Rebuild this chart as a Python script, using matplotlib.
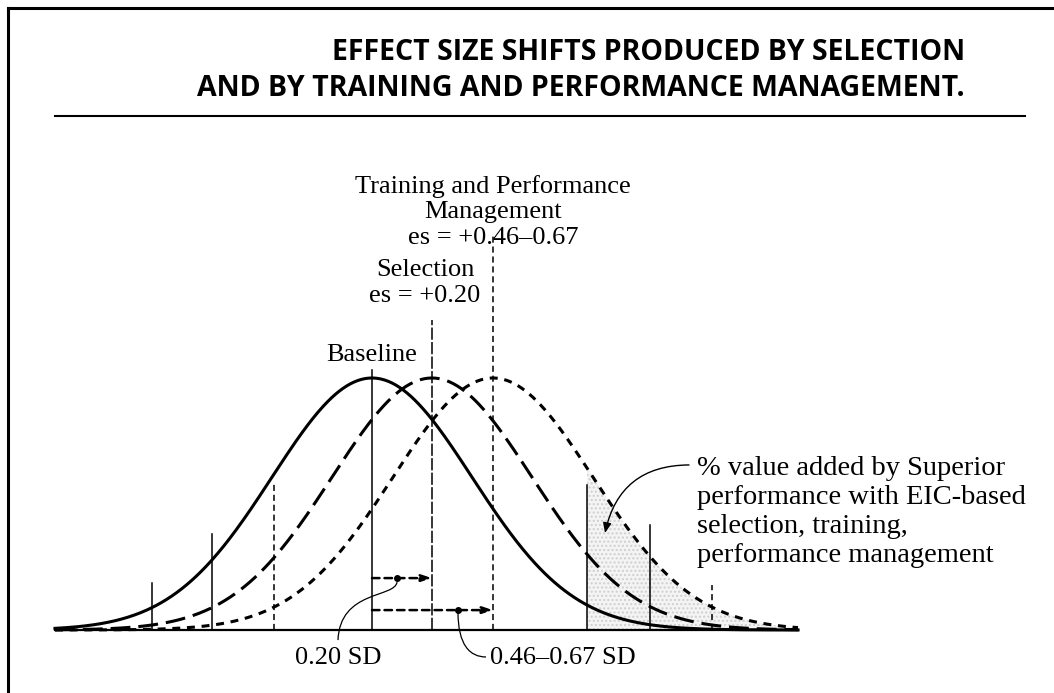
import numpy as np
import matplotlib
matplotlib.use("Agg")
import matplotlib.pyplot as plt
from matplotlib.lines import Line2D
from matplotlib.path import Path
from matplotlib.patches import PathPatch

# shifts of the three distributions (drawing units: 1 = one SD on the sketch)
names = ["Baseline", "Selection", "Training and Performance Management"]
means = [0.0, 0.6, 1.21]
mean_line_tops = [1.03, 1.23, 1.575]
# side marker lines: (x, top height) for baseline / selection / training
left_marks = [(-2.2, 0.187), (-1.6, 0.38), (-0.98, 0.583)]
right_marks = [(2.15, 0.575), (2.78, 0.417), (3.4, 0.18)]
shade_start = 2.15
x_range = (-3.17, 4.26)

title_lines = ["EFFECT SIZE SHIFTS PRODUCED BY SELECTION",
               "AND BY TRAINING AND PERFORMANCE MANAGEMENT."]
train_label = "Training and Performance\nManagement\nes = +0.46\u20130.67"
sel_label = "Selection\nes = +0.20"
shift_labels = ["0.20 SD", "0.46\u20130.67 SD"]
note = ("% value added by Superior\nperformance with EIC-based\n"
        "selection, training,\nperformance management")

W, H = 1054, 693
fig = plt.figure(figsize=(W / 100, H / 100), dpi=100)
ax = fig.add_axes([0, 0, 1, 1])
ax.set_xlim((0 - 372) / 100, (W - 372) / 100)
ax.set_ylim((630 - H) / 252, 630 / 252)
ax.axis("off")

serif = ["Liberation Serif", "DejaVu Serif"]
x = np.linspace(*x_range, 600)


def curve(m):
    return np.exp(-((x - m) ** 2) / 2)


# shaded area under the training curve
mask = x >= shade_start
ax.fill_between(x[mask], 0, curve(means[2])[mask], facecolor="#f4f4f4",
                hatch="....", edgecolor="#cfcfcf", linewidth=0, zorder=1)

styles = [dict(ls="-"), dict(ls=(0, (6.5, 2.6))), dict(ls=(0, (2.6, 2.2)))]
for m, st in zip(means, styles):
    ax.plot(x, curve(m), color="black", lw=2.2, zorder=3, **st)

ax.plot(x_range, [0, 0], color="black", lw=1.6, zorder=4)

vstyles = ["-", (0, (8, 1.5)), (0, (4, 2.5))]
for i in range(3):
    ax.plot([means[i], means[i]], [0, mean_line_tops[i]], color="black",
            lw=1.1, ls=vstyles[i], zorder=2)
    for xm, top in (left_marks[i], right_marks[i]):
        ax.plot([xm, xm], [0, top], color="black", lw=1.1,
                ls=vstyles[i] if i != 1 else "-", zorder=2)

# shift arrows
arrow_rows = [(0.206, means[1], 0.25), (0.079, means[2], 0.86)]
for yy, end, dot in arrow_rows:
    ax.annotate("", xy=(end, yy), xytext=(means[0], yy),
                arrowprops=dict(arrowstyle="-|>,head_length=0.6,head_width=0.2",
                                color="black", lw=1.8, ls=(0, (3, 2)),
                                shrinkA=0, shrinkB=0), zorder=4)
    ax.plot(dot, yy, "o", color="black", ms=4, zorder=5)

# leaders to the shift labels
leaders = [[(0.25, 0.19), (0.23, 0.127), (-0.32, 0.159), (-0.34, -0.04)],
           [(0.86, 0.071), (0.86, -0.06), (0.98, -0.107), (1.14, -0.107)]]
for pts in leaders:
    p = Path(pts, [Path.MOVETO, Path.CURVE4, Path.CURVE4, Path.CURVE4])
    ax.add_patch(PathPatch(p, fc="none", ec="black", lw=0.9, zorder=4))

fs = 19
ax.text(means[2], 1.659, train_label, ha="center", va="center",
        family=serif, fontsize=fs, linespacing=1.2)
ax.text(0.53, 1.377, sel_label, ha="center", va="center",
        family=serif, fontsize=fs, linespacing=1.2)
ax.text(means[0], 1.091, names[0], ha="center", va="center",
        family=serif, fontsize=fs)
ax.text(-0.34, -0.111, shift_labels[0], ha="center", va="center",
        family=serif, fontsize=fs)
ax.text(1.18, -0.111, shift_labels[1], ha="left", va="center",
        family=serif, fontsize=fs)
ax.text(3.25, 0.468, note, ha="left", va="center", family=serif,
        fontsize=20.5, linespacing=1.2)
ax.annotate("", xy=(2.33, 0.385), xytext=(3.17, 0.655),
            arrowprops=dict(arrowstyle="-|>,head_length=0.6,head_width=0.25",
                            color="black", lw=1.0,
                            connectionstyle="arc3,rad=0.4",
                            shrinkA=0, shrinkB=0))

# title block, rule and frame
for line, py in zip(title_lines, [53, 88]):
    fig.text(965 / W, 1 - py / H, line, ha="right", va="center",
             family="Open Sans", weight="bold", fontsize=20.5)
fig.add_artist(Line2D([55 / W, 1025 / W], [1 - 116 / H] * 2, color="black", lw=1.5))
fig.add_artist(Line2D([8 / W, 8 / W], [0, 1 - 8 / H], color="black", lw=2.2))
fig.add_artist(Line2D([8 / W, 1], [1 - 8 / H] * 2, color="black", lw=2.2))

fig.savefig("out.png", dpi=100)
